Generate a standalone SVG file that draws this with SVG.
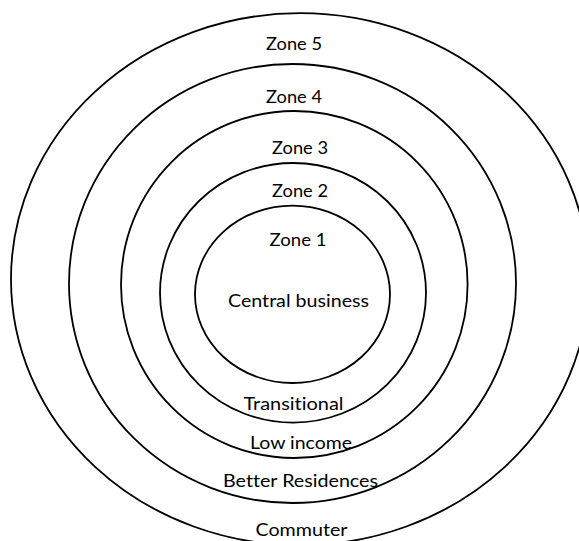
<svg xmlns="http://www.w3.org/2000/svg" width="579" height="541" viewBox="0 0 579 541">
  <style>
    .ring { fill: none; stroke: #000; stroke-width: 1.8; }
    .lbl { font-family: Lato, "Open Sans", "Liberation Sans", sans-serif; font-size: 18px; fill: #000; text-anchor: middle; font-variant-ligatures: none; }
  </style>
  <rect width="579" height="541" fill="#fff"/>
  <!-- concentric zones, outermost first -->
  <g id="zone5">
    <ellipse class="ring" cx="300" cy="279.2" rx="289" ry="266"/>
    <text class="lbl" x="294" y="50" textLength="56" lengthAdjust="spacingAndGlyphs">Zone 5</text>
    <text class="lbl" x="301.5" y="536" textLength="92" lengthAdjust="spacingAndGlyphs">Commuter</text>
  </g>
  <g id="zone4">
    <ellipse class="ring" cx="292.5" cy="283.5" rx="223.5" ry="219.5"/>
    <text class="lbl" x="294" y="103" textLength="56" lengthAdjust="spacingAndGlyphs">Zone 4</text>
    <text class="lbl" x="300.5" y="486.5" textLength="155" lengthAdjust="spacingAndGlyphs">Better Residences</text>
  </g>
  <g id="zone3">
    <ellipse class="ring" cx="294.3" cy="284.5" rx="173.3" ry="173.5"/>
    <text class="lbl" x="300" y="154" textLength="56" lengthAdjust="spacingAndGlyphs">Zone 3</text>
    <text class="lbl" x="301" y="449" textLength="102" lengthAdjust="spacingAndGlyphs">Low income</text>
  </g>
  <g id="zone2">
    <ellipse class="ring" cx="293" cy="292.8" rx="133" ry="129.8"/>
    <text class="lbl" x="300" y="197" textLength="56" lengthAdjust="spacingAndGlyphs">Zone 2</text>
    <text class="lbl" x="293.5" y="409.5" textLength="100" lengthAdjust="spacingAndGlyphs">Transitional</text>
  </g>
  <g id="zone1">
    <ellipse class="ring" cx="292.5" cy="294.3" rx="97.5" ry="88.7"/>
    <text class="lbl" x="298" y="246" textLength="57" lengthAdjust="spacingAndGlyphs">Zone 1</text>
    <text class="lbl" x="298.5" y="307" textLength="141" lengthAdjust="spacingAndGlyphs">Central business</text>
  </g>
</svg>
